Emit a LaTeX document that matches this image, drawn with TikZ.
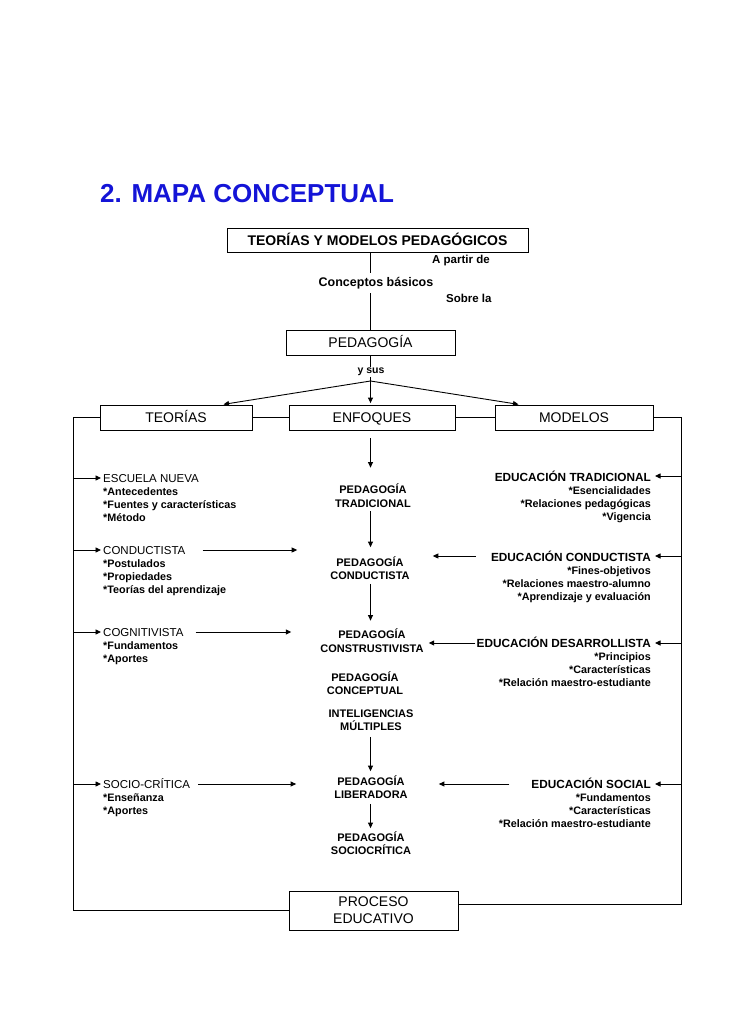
\documentclass[tikz,border=0pt]{standalone}
\usepackage{fontspec}
\setmainfont{Liberation Sans}
\usetikzlibrary{arrows.meta}
\definecolor{ttl}{RGB}{20,20,215}
\begin{document}
\begin{tikzpicture}[x=1pt,y=-1pt,
 bx/.style={draw, line width=0.8pt, inner sep=0pt, font=\fontsize{14}{17}\selectfont},
 bx1/.style={bx, text height=10pt, text depth=0pt},
 lh/.style={inner sep=0pt, anchor=base west, font=\fontsize{11.5}{13}\selectfont},
 ls/.style={inner sep=0pt, anchor=north west, align=left, font=\bfseries\fontsize{10.8}{13.2}\selectfont},
 rh/.style={inner sep=0pt, anchor=base east, font=\bfseries\fontsize{11.8}{13}\selectfont},
 rs/.style={inner sep=0pt, anchor=north east, align=right, font=\bfseries\fontsize{10.8}{13.2}\selectfont},
 ct/.style={inner sep=2pt, align=center, font=\bfseries\fontsize{11}{13.5}\selectfont},
 sm/.style={inner sep=0pt, font=\bfseries\fontsize{11.5}{13}\selectfont},
 cn/.style={line width=0.9pt},
 ar/.style={cn, -{Triangle[length=5.5pt,width=5pt]}},
]
\useasboundingbox (0,0) rectangle (728,1030);

% title
\node[anchor=west, inner sep=0pt, text=ttl, font=\bfseries\fontsize{26}{30}\selectfont] (title) at (100,194) {2. MAPA CONCEPTUAL};

% top part
\node[bx1, minimum width=301pt, minimum height=24pt, font=\bfseries\fontsize{14}{17}\selectfont] (top) at (377.5,240) {TEORÍAS Y MODELOS PEDAGÓGICOS};
\node[sm, anchor=west] (apartir) at (432,261) {A partir de};
\node[sm, inner sep=4pt, font=\bfseries\fontsize{12.5}{14}\selectfont] (conc) at (376,283) {Conceptos básicos};
\node[sm, anchor=west] (sobre) at (446,298) {Sobre la};
\node[bx1, minimum width=169pt, minimum height=25pt] (ped) at (370.5,342.5) {PEDAGOGÍA};
\draw[cn] (top.south -| ped.north) -- (conc.north -| ped.north);
\draw[cn] (conc.south -| ped.north) -- (ped.north);

\coordinate (J) at (370.5,381);
\draw[cn] (ped.south) -- (J);
\node[sm, fill=white, inner sep=1pt, font=\bfseries\fontsize{10.5}{12}\selectfont] (ysus) at (371,372) {y sus};

\node[bx1, minimum width=152pt, minimum height=25pt] (teo) at (176,417.5) {TEORÍAS};
\node[bx1, minimum width=166pt, minimum height=25pt] (enf) at (372,417.5) {ENFOQUES};
\node[bx1, minimum width=158pt, minimum height=25pt] (mod) at (574,417.5) {MODELOS};
\draw[ar, shorten >=1.5pt] (J) -- ([xshift=46pt]teo.north);
\draw[ar, shorten >=1.5pt] (J) -- (ped |- enf.north);
\draw[ar, shorten >=1.5pt] (J) -- ([xshift=-54pt]mod.north);
\draw[cn] (teo) -- (enf);
\draw[cn] (enf) -- (mod);

% bottom box and loop
\node[bx, minimum width=169pt, minimum height=39pt, align=center] (proc) at (373.5,910.5) {PROCESO\\EDUCATIVO};
\draw[cn] (teo.west) -- ++(-26,0) |- (proc.west);
\draw[cn] (mod.east) -- ++(28,0) |- ([yshift=6pt]proc.east);

% center column
\node[ct] (trad) at (373,495.5) {PEDAGOGÍA\\TRADICIONAL};
\node[ct] (cond) at (370,568) {PEDAGOGÍA\\CONDUCTISTA};
\node[ct] (cons) at (372,640.5) {PEDAGOGÍA\\CONSTRUSTIVISTA};
\node[ct] (conp) at (365,683) {PEDAGOGÍA\\CONCEPTUAL};
\node[ct] (intl) at (371,720) {INTELIGENCIAS\\MÚLTIPLES};
\node[ct] (lib) at (371,787) {PEDAGOGÍA\\LIBERADORA};
\node[ct] (soc) at (371,843) {PEDAGOGÍA\\SOCIOCRÍTICA};

\draw[ar, shorten <=8pt, shorten >=14pt] (ped |- enf.south) -- (ped |- trad.north);
\draw[ar, shorten <=2pt, shorten >=7pt] (ped |- trad.south) -- (ped |- cond.north);
\draw[ar, shorten <=2pt, shorten >=6pt] (ped |- cond.south) -- (ped |- cons.north);
\draw[ar, shorten <=4pt, shorten >=2pt] (ped |- intl.south) -- (ped |- lib.north);
\draw[ar, shorten <=3pt, shorten >=1pt] (ped |- lib.south) -- (ped |- soc.north);

% left column
\node[lh] (escH) at (103,482) {ESCUELA NUEVA};
\node[ls] (escS) at (103,487.5) {*Antecedentes\\*Fuentes y características\\*Método};
\node[lh] (condH) at (103,554) {CONDUCTISTA};
\node[ls] (condS) at (103,559.5) {*Postulados\\*Propiedades\\*Teorías del aprendizaje};
\node[lh] (cogH) at (103,636) {COGNITIVISTA};
\node[ls] (cogS) at (103,641.5) {*Fundamentos\\*Aportes};
\node[lh] (socH) at (103,788) {SOCIO-CRÍTICA};
\node[ls] (socS) at (103,793.5) {*Enseñanza\\*Aportes};

\coordinate (L1) at (74,478);
\coordinate (L2) at (74,550);
\coordinate (L3) at (74,632);
\coordinate (L4) at (74,784);
\draw[ar, shorten >=2pt] (L1) -- (L1 -| escH.west);
\draw[ar, shorten >=2pt] (L2) -- (L2 -| condH.west);
\draw[ar, shorten >=2pt] (L3) -- (L3 -| cogH.west);
\draw[ar, shorten >=2pt] (L4) -- (L4 -| socH.west);

\draw[ar, shorten <=17pt, shorten >=31pt] (condH.east |- L2) -- (L2 -| cond.west);
\draw[ar, shorten <=12pt, shorten >=27pt] (cogH.east |- L3) -- (L3 -| cons.west);
\draw[ar, shorten <=8pt, shorten >=36pt] (socH.east |- L4) -- (L4 -| lib.west);

% right column
\node[rh] (tradH) at (651,481) {EDUCACIÓN TRADICIONAL};
\node[rs] (tradS) at (651,486.5) {*Esencialidades\\*Relaciones pedagógicas\\*Vigencia};
\node[rh] (edcH) at (651,561) {EDUCACIÓN CONDUCTISTA};
\node[rs] (edcS) at (651,566.5) {*Fines-objetivos\\*Relaciones maestro-alumno\\*Aprendizaje y evaluación};
\node[rh] (desH) at (651,647) {EDUCACIÓN DESARROLLISTA};
\node[rs] (desS) at (651,652.5) {*Principios\\*Características\\*Relación maestro-estudiante};
\node[rh] (socrH) at (651,788) {EDUCACIÓN SOCIAL};
\node[rs] (socrS) at (651,793.5) {*Fundamentos\\*Características\\*Relación maestro-estudiante};

\coordinate (R1) at (681,476);
\coordinate (R2) at (681,556);
\coordinate (R3) at (681,643);
\coordinate (R4) at (681,784);
\draw[ar, shorten >=4pt] (R1) -- (R1 -| tradH.east);
\draw[ar, shorten >=4pt] (R2) -- (R2 -| edcH.east);
\draw[ar, shorten >=4pt] (R3) -- (R3 -| desH.east);
\draw[ar, shorten >=4pt] (R4) -- (R4 -| socrH.east);

\draw[ar, shorten <=15pt, shorten >=21pt] (edcH.west |- R2) -- (R2 -| cond.east);
\draw[ar, shorten <=1pt, shorten >=3pt] (desH.west |- R3) -- (R3 -| cons.east);
\draw[ar, shorten <=22pt, shorten >=29pt] (socrH.west |- R4) -- (R4 -| lib.east);
\end{tikzpicture}
\end{document}
